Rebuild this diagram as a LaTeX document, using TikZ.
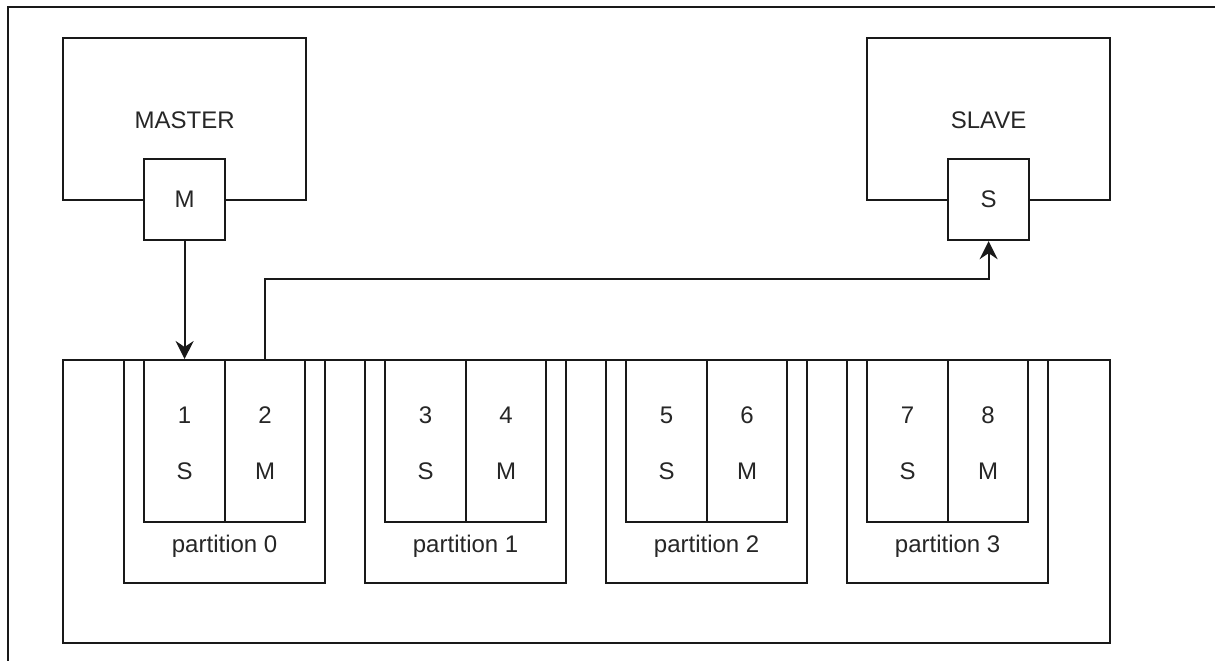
\documentclass[tikz,border=0pt]{standalone}
\usepackage{fontspec}
\setmainfont{Liberation Sans}
\usetikzlibrary{arrows.meta,calc}
\begin{document}
\begin{tikzpicture}[x=1pt,y=-1pt,
  box/.style={draw=black!90, line width=2.2pt, fill=white, inner sep=0pt, anchor=north west},
  txt/.style={font=\fontsize{24}{28}\selectfont, text=black!85, inner sep=0pt},
  link/.style={draw=black!90, line width=2.2pt, -{Stealth[length=18pt,width=18pt,inset=6pt]}}]
\useasboundingbox (0,0) rectangle (1215,661);
\draw[line width=2.2pt, draw=black!90] (8,661) -- (8,7) -- (1215,7);
% master / slave
\node[box, minimum width=243pt, minimum height=162pt] (master) at (62,37) {};
\node[txt] (mastertxt) at ($(master.center)+(0,1)$) {MASTER};
\node[box, minimum width=81pt, minimum height=81pt] (M) at (143,158) {};
\node[txt] (Mtxt) at (M.center) {M};
\node[box, minimum width=243pt, minimum height=162pt] (slave) at (866,37) {};
\node[txt] (slavetxt) at ($(slave.center)+(0,1)$) {SLAVE};
\node[box, minimum width=81pt, minimum height=81pt] (S) at (947,158) {};
\node[txt] (Stxt) at (S.center) {S};
% container
\node[box, minimum width=1047pt, minimum height=283pt] (cont) at (62,359) {};
\foreach \i in {0,1,2,3}{
  \pgfmathsetmacro\px{123+241*\i}
  \pgfmathtruncatemacro\a{2*\i+1}
  \pgfmathtruncatemacro\b{2*\i+2}
  \node[box, minimum width=201pt, minimum height=223pt] (p\i) at (\px,359) {};
  \node[txt] (pl\i) at ($(p\i.north)+(0,187)$) {partition \i};
  \node[box, minimum width=81pt, minimum height=162pt] (c\a) at (\px+20,359) {};
  \node[box, minimum width=80pt, minimum height=162pt] (c\b) at (\px+101,359) {};
  \node[txt] (n\a) at ($(c\a.center)+(0,-26)$) {\a};
  \node[txt] (r\a) at ($(c\a.center)+(0,30)$) {S};
  \node[txt] (n\b) at ($(c\b.center)+(0,-26)$) {\b};
  \node[txt] (r\b) at ($(c\b.center)+(0,30)$) {M};
}
% connectors
\draw[link] (M.south) -- (c1.north);
\draw[link] (c2.north) -- ++(0,-80) -| (S.south);
\end{tikzpicture}
\end{document}
